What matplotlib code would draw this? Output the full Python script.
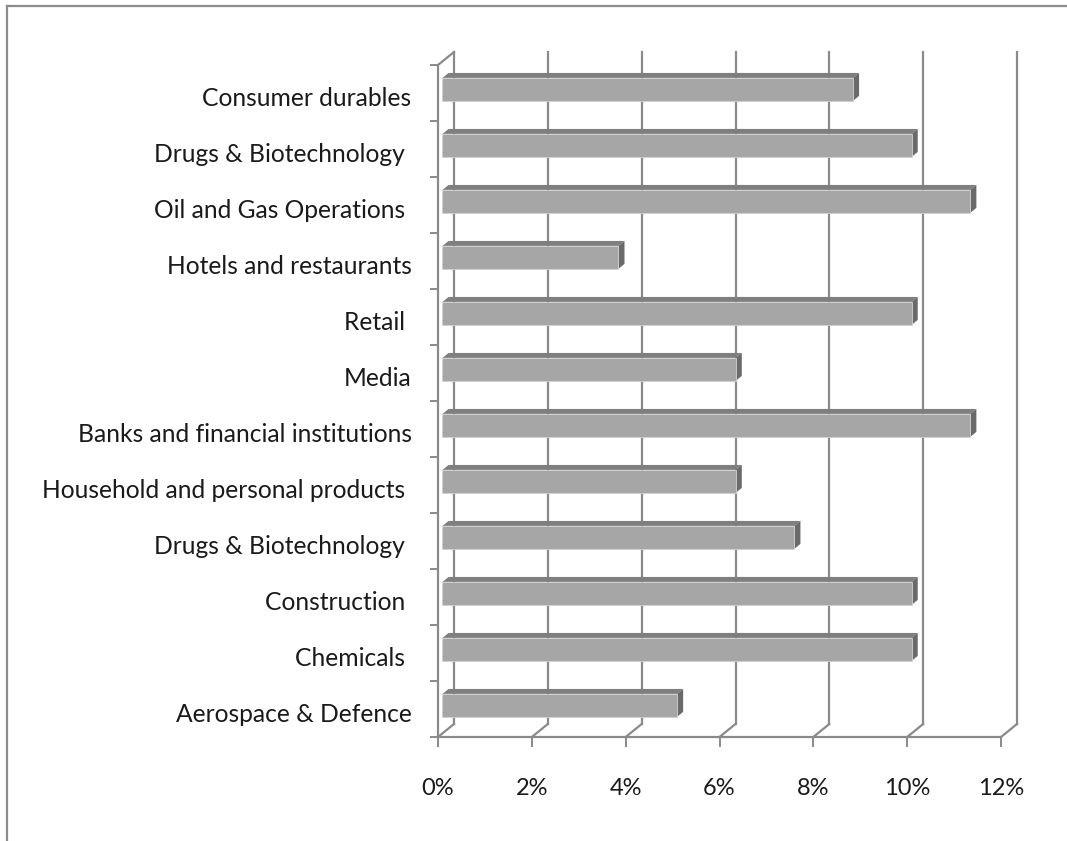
import matplotlib
matplotlib.use('Agg')
import matplotlib.pyplot as plt
import matplotlib.transforms as mtransforms
from matplotlib.patches import Polygon
from matplotlib.lines import Line2D
import numpy as np

# ---- data (top to bottom as shown) ----
categories = [
    "Consumer durables",
    "Drugs & Biotechnology ",
    "Oil and Gas Operations ",
    "Hotels and restaurants",
    "Retail ",
    "Media",
    "Banks and financial institutions",
    "Household and personal products ",
    "Drugs & Biotechnology ",
    "Construction ",
    "Chemicals ",
    "Aerospace & Defence",
]
values = [8.75, 10.0, 11.25, 3.75, 10.0, 6.25, 11.25, 6.25, 7.5, 10.0, 10.0, 5.0]
xticks = [0, 2, 4, 6, 8, 10, 12]
xtick_labels = [f"{t}%" for t in xticks]

# ---- style ----
plt.rcParams['font.family'] = ['Lato', 'DejaVu Sans']
GRID = '#8a8a8a'
FRONT = '#a6a6a6'
TOP = '#7f7f7f'
SIDE = '#6a6a6a'
FS_Y = 17.7
FS_X = 17

W, H = 1067, 841
fig = plt.figure(figsize=(W / 100, H / 100), dpi=100)
ax = fig.add_axes([438 / W, (H - 737) / H, 563 / W, 672 / H])
n = len(categories)
ypos = np.arange(n)[::-1]
ax.set_xlim(xticks[0], xticks[-1])
ax.set_ylim(-0.5, n - 0.5)

# depth vector (pixels) -> data units
p0 = ax.transData.transform((0, 0))
DX, DY = ax.transData.inverted().transform(p0 + np.array([16.0, 13.0]))
x_lo, x_hi = ax.get_xlim()
y_lo, y_hi = ax.get_ylim()

# frame around the chart
fig.add_artist(Line2D([7 / W, 7 / W], [0, 1 - 6 / H], color='#8c8c8c', lw=1.6))
fig.add_artist(Line2D([7 / W, 1], [1 - 6 / H, 1 - 6 / H], color='#8c8c8c', lw=1.6))

# back wall gridlines + floor diagonals
for t in xticks:
    ax.add_line(Line2D([t + DX, t + DX], [y_lo + DY, y_hi + DY], color=GRID, lw=1.6,
                       clip_on=False, zorder=1))
    ax.add_line(Line2D([t, t + DX], [y_lo, y_lo + DY], color=GRID, lw=1.6,
                       clip_on=False, zorder=1))
# top-left wall diagonal
ax.add_line(Line2D([x_lo, x_lo + DX], [y_hi, y_hi + DY], color=GRID, lw=1.6,
                   clip_on=False, zorder=1))

# bars
z0, z1 = 0.28, 0.66
bh = 0.41
yc = ypos + z0 * DY
ax.barh(yc, values, height=bh, left=x_lo + z0 * DX, color=FRONT,
        edgecolor='#d2d2d2', linewidth=0.6, zorder=4, clip_on=False)
ddx, ddy = (z1 - z0) * DX, (z1 - z0) * DY
for y, v in zip(yc, values):
    xl = x_lo + z0 * DX
    xr = v + z0 * DX
    yt = y + bh / 2
    yb = y - bh / 2
    ax.add_patch(Polygon([(xl, yt), (xr, yt), (xr + ddx, yt + ddy), (xl + ddx, yt + ddy)],
                         closed=True, facecolor=TOP, edgecolor='none', zorder=3, clip_on=False))
    ax.add_patch(Polygon([(xr, yb), (xr, yt), (xr + ddx, yt + ddy), (xr + ddx, yb + ddy)],
                         closed=True, facecolor=SIDE, edgecolor='none', zorder=3, clip_on=False))

# axes / ticks
for s in ['top', 'right']:
    ax.spines[s].set_visible(False)
for s in ['left', 'bottom']:
    ax.spines[s].set_color(GRID)
    ax.spines[s].set_linewidth(1.6)
ax.set_xticks(xticks)
ax.set_xticklabels(xtick_labels, fontsize=FS_X, color='#1a1a1a')
ax.tick_params(axis='x', which='major', length=7.2, width=1.4, color=GRID, pad=22)
ax.set_yticks(ypos)
ax.set_yticklabels(categories, fontsize=FS_Y, color='#1a1a1a', va='center_baseline')
ax.tick_params(axis='y', which='major', length=0, pad=19)
ax.set_yticks(np.arange(-0.5, n, 1.0), minor=True)
ax.tick_params(axis='y', which='minor', length=5.8, width=1.4, color=GRID)
ax.set_facecolor('none')

# nudge category labels slightly down, as in the reference
shift = mtransforms.ScaledTranslation(0, -3 / 100, fig.dpi_scale_trans)
for lbl in ax.get_yticklabels():
    lbl.set_transform(lbl.get_transform() + shift)

fig.savefig('out.png', dpi=100)
